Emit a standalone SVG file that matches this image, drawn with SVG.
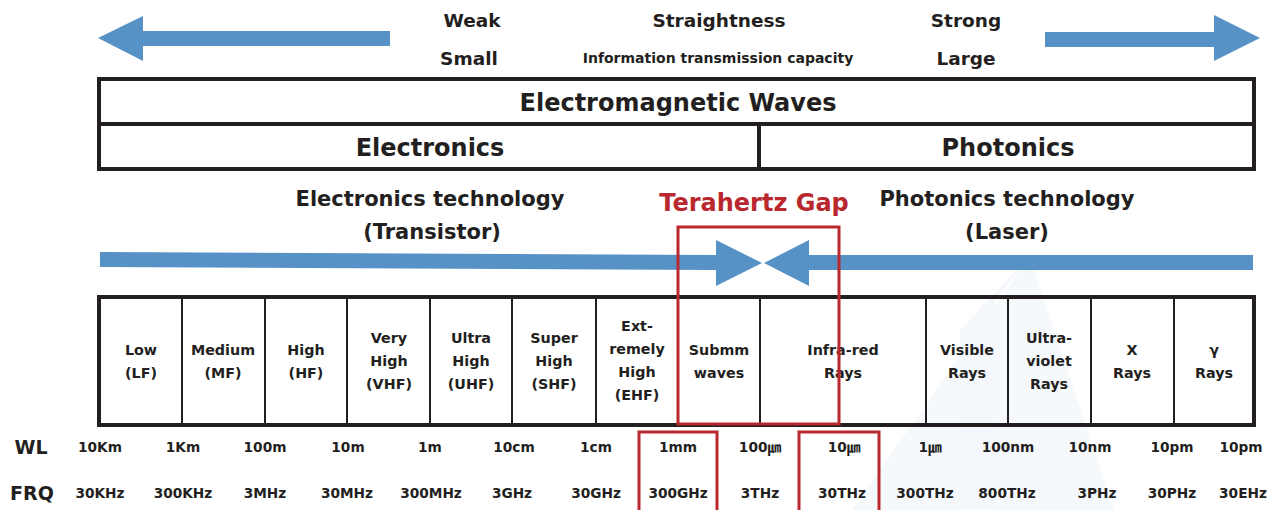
<svg xmlns="http://www.w3.org/2000/svg" width="1282" height="510" viewBox="0 0 1282 510">
  <style>
    text { font-family: "DejaVu Sans", "Noto Sans CJK JP", sans-serif; font-weight: bold; fill: #231f20; text-anchor: middle; }
    .top { font-size: 18.5px; }
    .cap { font-size: 14px; }
    .hdr { font-size: 24px; }
    .tech { font-size: 21px; }
    .gap { font-size: 24px; fill: #b8282e; }
    .cell { font-size: 14.3px; }
    .val { font-size: 13.7px; }
    .lbl { font-size: 19px; }
    .box { fill: none; stroke: #231f20; stroke-width: 4; }
    .div { stroke: #231f20; stroke-width: 2; }
    .red { fill: none; stroke: #b8282e; stroke-width: 3; }
    .arrow { fill: #5692c6; }
  </style>
  <rect width="1282" height="510" fill="#ffffff"/>
  <!-- faint background watermark -->
  <g id="watermark" opacity="0.3">
    <polygon points="1030,256 852,510 1114,510" fill="#e4ecf6"/>
    <polygon points="1030,256 960,330 960,510 995,510 995,300" fill="#dce6f3"/>
  </g>

  <g id="connectors">
    <polygon class="arrow" points="98,38 143,16 143,31 390,31 390,46 143,46 143,61"/>
    <polygon class="arrow" points="1045,32 1214,32 1214,15 1260,38 1214,61 1214,47 1045,47"/>
    <polygon class="arrow" points="100,252 716,255 716,240 762,263 716,286 716,270 100,267"/>
    <polygon class="arrow" points="1253,255 809,255 809,240 764,263 809,286 809,270 1253,270"/>
  </g>

  <g id="scale-labels">
    <text class="top" x="472" y="27">Weak</text>
    <text class="top" x="719" y="27">Straightness</text>
    <text class="top" x="966" y="27">Strong</text>
    <text class="top" x="469" y="65">Small</text>
    <text class="cap" x="718" y="63">Information transmission capacity</text>
    <text class="top" x="966" y="65">Large</text>
  </g>

  <g id="em-waves">
    <rect class="box" x="99" y="79" width="1155" height="90"/>
    <line class="box" x1="99" y1="124" x2="1254" y2="124"/>
    <line class="box" x1="759" y1="124" x2="759" y2="169"/>
    <text class="hdr" x="678" y="111">Electromagnetic Waves</text>
  </g>
  <g id="electronics"><text class="hdr" x="430" y="156">Electronics</text></g>
  <g id="photonics"><text class="hdr" x="1008" y="156">Photonics</text></g>

  <g id="electronics-tech">
    <text class="tech" x="430" y="206">Electronics technology</text>
    <text class="tech" x="432" y="239">(Transistor)</text>
  </g>
  <g id="photonics-tech">
    <text class="tech" x="1007" y="206">Photonics technology</text>
    <text class="tech" x="1007" y="239">(Laser)</text>
  </g>

  <g id="table">
    <rect class="box" x="99" y="297" width="1155" height="128"/>
    <line class="div" x1="182" y1="297" x2="182" y2="425"/>
    <line class="div" x1="265" y1="297" x2="265" y2="425"/>
    <line class="div" x1="347" y1="297" x2="347" y2="425"/>
    <line class="div" x1="430" y1="297" x2="430" y2="425"/>
    <line class="div" x1="512" y1="297" x2="512" y2="425"/>
    <line class="div" x1="596" y1="297" x2="596" y2="425"/>
    <line class="div" x1="678" y1="297" x2="678" y2="425"/>
    <line class="div" x1="760" y1="297" x2="760" y2="425"/>
    <line class="div" x1="926" y1="297" x2="926" y2="425"/>
    <line class="div" x1="1008" y1="297" x2="1008" y2="425"/>
    <line class="div" x1="1091" y1="297" x2="1091" y2="425"/>
    <line class="div" x1="1174" y1="297" x2="1174" y2="425"/>
  </g>
  <g id="cell-lf"><text class="cell" x="141" y="355">Low</text><text class="cell" x="141" y="378">(LF)</text></g>
  <g id="cell-mf"><text class="cell" x="223" y="355">Medium</text><text class="cell" x="223" y="378">(MF)</text></g>
  <g id="cell-hf"><text class="cell" x="306" y="355">High</text><text class="cell" x="306" y="378">(HF)</text></g>
  <g id="cell-vhf"><text class="cell" x="389" y="343">Very</text><text class="cell" x="389" y="366">High</text><text class="cell" x="389" y="389">(VHF)</text></g>
  <g id="cell-uhf"><text class="cell" x="471" y="343">Ultra</text><text class="cell" x="471" y="366">High</text><text class="cell" x="471" y="389">(UHF)</text></g>
  <g id="cell-shf"><text class="cell" x="554" y="343">Super</text><text class="cell" x="554" y="366">High</text><text class="cell" x="554" y="389">(SHF)</text></g>
  <g id="cell-ehf"><text class="cell" x="637" y="331">Ext-</text><text class="cell" x="637" y="354">remely</text><text class="cell" x="637" y="377">High</text><text class="cell" x="637" y="400">(EHF)</text></g>
  <g id="cell-submm"><text class="cell" x="719" y="355">Submm</text><text class="cell" x="719" y="378">waves</text></g>
  <g id="cell-ir"><text class="cell" x="843" y="355">Infra-red</text><text class="cell" x="843" y="378">Rays</text></g>
  <g id="cell-vis"><text class="cell" x="967" y="355">Visible</text><text class="cell" x="967" y="378">Rays</text></g>
  <g id="cell-uv"><text class="cell" x="1049" y="343">Ultra-</text><text class="cell" x="1049" y="366">violet</text><text class="cell" x="1049" y="389">Rays</text></g>
  <g id="cell-x"><text class="cell" x="1132" y="355">X</text><text class="cell" x="1132" y="378">Rays</text></g>
  <g id="cell-gamma"><text class="cell" x="1214" y="355">γ</text><text class="cell" x="1214" y="378">Rays</text></g>

  <g id="terahertz-gap">
    <text class="gap" x="754" y="211">Terahertz Gap</text>
    <rect class="red" x="678" y="227" width="161" height="197"/>
  </g>

  <g id="wl-row">
    <text class="lbl" x="31" y="454">WL</text>
    <text class="val" x="100" y="452">10Km</text>
    <text class="val" x="183" y="452">1Km</text>
    <text class="val" x="265" y="452">100m</text>
    <text class="val" x="348" y="452">10m</text>
    <text class="val" x="430" y="452">1m</text>
    <text class="val" x="514" y="452">10cm</text>
    <text class="val" x="596" y="452">1cm</text>
    <text class="val" x="678" y="452">1mm</text>
    <text class="val" x="760" y="452">100㎛</text>
    <text class="val" x="844" y="452">10㎛</text>
    <text class="val" x="930" y="452">1㎛</text>
    <text class="val" x="1008" y="452">100nm</text>
    <text class="val" x="1090" y="452">10nm</text>
    <text class="val" x="1172" y="452">10pm</text>
    <text class="val" x="1241" y="452">10pm</text>
  </g>
  <g id="frq-row">
    <text class="lbl" x="32" y="500">FRQ</text>
    <text class="val" x="100" y="498">30KHz</text>
    <text class="val" x="183" y="498">300KHz</text>
    <text class="val" x="265" y="498">3MHz</text>
    <text class="val" x="347" y="498">30MHz</text>
    <text class="val" x="431" y="498">300MHz</text>
    <text class="val" x="512" y="498">3GHz</text>
    <text class="val" x="596" y="498">30GHz</text>
    <text class="val" x="678" y="498">300GHz</text>
    <text class="val" x="760" y="498">3THz</text>
    <text class="val" x="842" y="498">30THz</text>
    <text class="val" x="925" y="498">300THz</text>
    <text class="val" x="1007" y="498">800THz</text>
    <text class="val" x="1097" y="498">3PHz</text>
    <text class="val" x="1172" y="498">30PHz</text>
    <text class="val" x="1243" y="498">30EHz</text>
  </g>
  <g id="highlight-1mm"><rect class="red" x="639" y="432" width="78" height="90"/></g>
  <g id="highlight-10um"><rect class="red" x="799" y="432" width="80" height="90"/></g>
</svg>
